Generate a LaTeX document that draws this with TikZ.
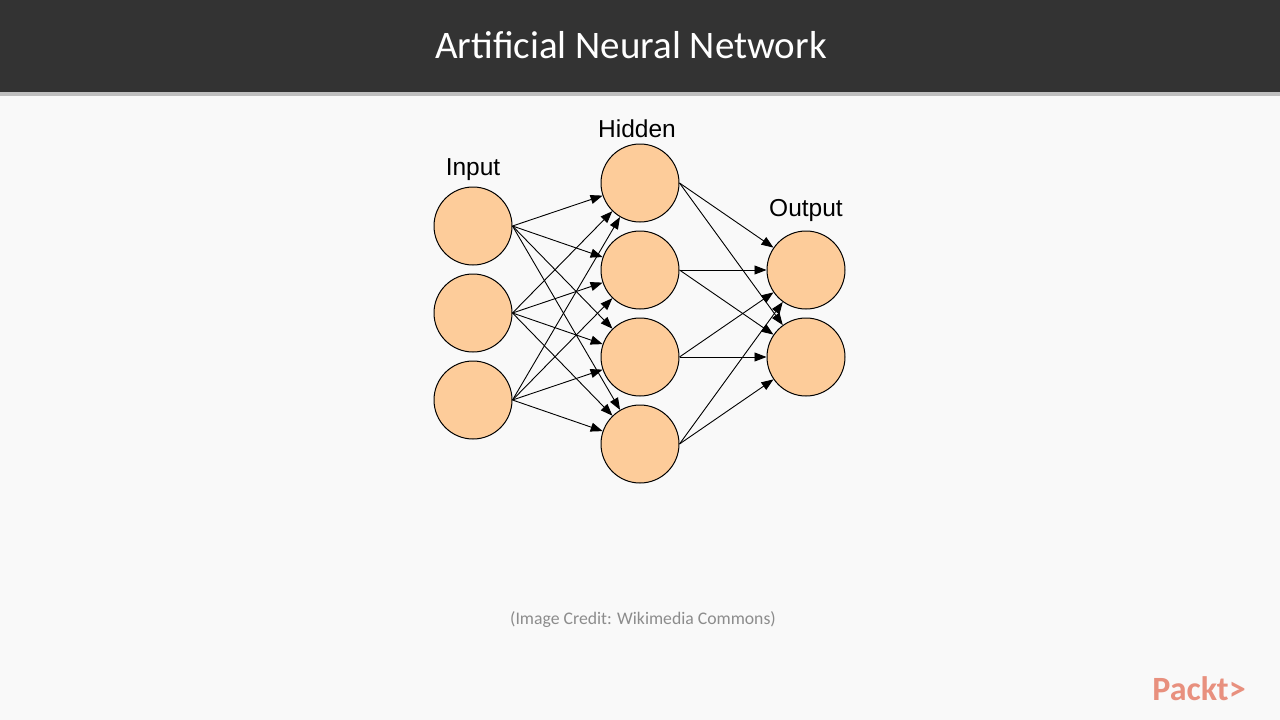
\documentclass[tikz,border=0pt]{standalone}
\usepackage{fontspec}
\setmainfont{Liberation Sans}
\newfontfamily\carlitofont{Carlito}
\usetikzlibrary{arrows.meta,shadows}
\definecolor{bg}{HTML}{F9F9F9}
\definecolor{bar}{HTML}{333333}
\definecolor{peach}{HTML}{FDCC9A}
\definecolor{packt}{HTML}{E8907E}
\begin{document}
\begin{tikzpicture}[x=1pt,y=-1pt,
  neuron/.style={circle,draw=black,line width=1pt,fill=peach,minimum size=78pt,inner sep=0pt},
  lab/.style={font=\fontsize{24.5}{26}\selectfont},
  conn/.style={line width=0.9pt,-{Triangle[length=12pt,width=9pt]}}]
\fill[bg] (0,0) rectangle (1280,720);
\useasboundingbox (0,0) rectangle (1280,720);
\fill[black!25] (0,92) rectangle (1280,96);
\fill[bar] (0,0) rectangle (1280,92);
\node[text=white,font=\carlitofont\fontsize{39}{42}\selectfont] (title) at (631,45) {Artificial Neural Network};
\foreach \i/\y in {1/226,2/313,3/400} \node[neuron] (i\i) at (473,\y) {};
\foreach \i/\y in {1/183,2/270,3/357,4/444} \node[neuron] (h\i) at (640,\y) {};
\foreach \i/\y in {1/270,2/357} \node[neuron] (o\i) at (806,\y) {};
\node[lab] (li) at (473,170) {Input};
\node[lab] (lh) at (637,129) {Hidden};
\node[lab] (lo) at (806,210) {Output};
\foreach \a in {1,2,3} \foreach \b in {1,2,3,4} \draw[conn] (i\a.east) -- (h\b);
\foreach \a in {1,2,3,4} \foreach \b in {1,2} \draw[conn] (h\a.east) -- (o\b);
\node[text=black!45,font=\carlitofont\fontsize{17.7}{20}\selectfont] (credit) at (643,620) {(Image Credit: Wikimedia Commons)};
\node[text=packt,font=\carlitofont\bfseries\fontsize{34}{38}\selectfont] (logo) at (1199,689) {Packt>};
\end{tikzpicture}
\end{document}
